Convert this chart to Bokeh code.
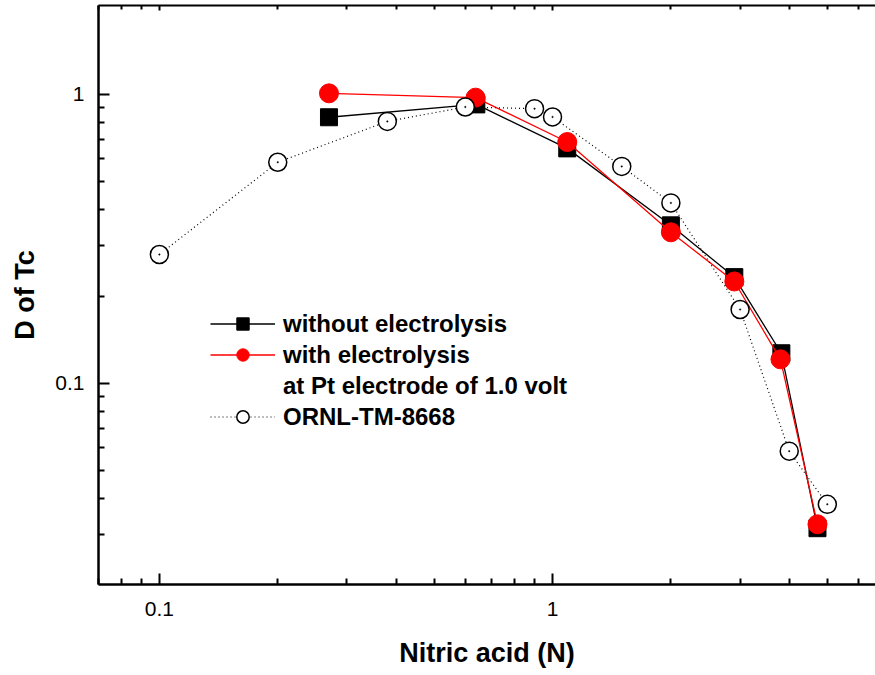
from bokeh.plotting import figure
from bokeh.models import (LogAxis, FixedTicker, NumeralTickFormatter, Legend,
                          LegendItem, Range1d)
from bokeh.embed import file_html
from bokeh.resources import INLINE

# ---- data ----
x_without = [0.27, 0.64, 1.09, 2.0, 2.9, 3.82, 4.72]
d_without = [0.833, 0.923, 0.65, 0.352, 0.233, 0.127, 0.0315]

x_with = [0.27, 0.637, 1.09, 2.0, 2.9, 3.8, 4.72]
d_with = [1.008, 0.974, 0.684, 0.333, 0.225, 0.121, 0.0325]

x_ornl = [0.1, 0.2, 0.38, 0.6, 0.9, 1.0, 1.5, 2.0, 3.0, 4.0, 5.0]
d_ornl = [0.279, 0.582, 0.806, 0.904, 0.892, 0.835, 0.563, 0.421, 0.180, 0.0582, 0.0381]

note_x = []
note_y = []

x_major = [0.1, 1]
x_minor = [0.07, 0.08, 0.09, 0.2, 0.3, 0.4, 0.5, 0.6, 0.7, 0.8, 0.9,
           2, 3, 4, 5, 6]
y_major = [0.1, 1]
y_minor = [0.02, 0.03, 0.04, 0.05, 0.06, 0.07, 0.08, 0.09,
           0.2, 0.3, 0.4, 0.5, 0.6, 0.7, 0.8, 0.9]

labels = ["without electrolysis", "with electrolysis",
          "at Pt electrode of 1.0 volt", "ORNL-TM-8668"]

FONT = "Liberation Sans"

p = figure(width=875, height=675, x_axis_type="log", y_axis_type="log",
           x_range=Range1d(0.0700, 6.63), y_range=Range1d(0.02011, 2.03),
           output_backend="svg", toolbar_location=None,
           min_border_left=98, min_border_right=0, min_border_top=5,
           min_border_bottom=91)
p.outline_line_color = None
p.grid.visible = False
p.background_fill_color = "white"

xt = FixedTicker(ticks=x_major, minor_ticks=x_minor)
yt = FixedTicker(ticks=y_major, minor_ticks=y_minor)

for ax, tk in ((p.xaxis[0], xt), (p.yaxis[0], yt)):
    ax.ticker = tk
    ax.formatter = NumeralTickFormatter(format="0.[00]")
    ax.axis_line_width = 2.5
    ax.axis_line_color = "black"
    ax.major_tick_in = 11
    ax.major_tick_out = 0
    ax.minor_tick_in = 6
    ax.minor_tick_out = 0
    ax.major_tick_line_width = 2
    ax.minor_tick_line_width = 2
    ax.major_tick_line_color = "black"
    ax.minor_tick_line_color = "black"
    ax.major_label_text_font = FONT
    ax.major_label_text_font_size = "21px"
    ax.major_label_text_color = "black"
    ax.axis_label_text_font = FONT
    ax.axis_label_text_font_style = "bold"
    ax.axis_label_text_font_size = "27px"
    ax.axis_label_text_color = "black"

p.xaxis[0].axis_label = "Nitric acid (N)"
p.xaxis[0].major_label_standoff = 17
p.xaxis[0].axis_label_standoff = 19
p.yaxis[0].axis_label = "D of Tc"
p.yaxis[0].major_label_standoff = 14
p.yaxis[0].axis_label_standoff = 12

top = LogAxis(ticker=FixedTicker(ticks=x_major, minor_ticks=x_minor),
              axis_line_width=2, major_tick_in=5, major_tick_out=0,
              minor_tick_in=4, minor_tick_out=0, major_tick_line_width=2,
              minor_tick_line_width=2, major_label_text_font_size="0px",
              major_label_standoff=0, axis_label=None)
top.major_label_text_alpha = 0
p.add_layout(top, "above")

# ---- series ----
l1 = p.line(x_without, d_without, line_color="black", line_width=1.3)
s1 = p.scatter(x_without, d_without, marker="square", size=17,
               fill_color="black", line_color="black")
l2 = p.line(x_with, d_with, line_color="red", line_width=1.3)
s2 = p.scatter(x_with, d_with, marker="circle", size=19,
               fill_color="red", line_color="red")
l3 = p.line(x_ornl, d_ornl, line_color="black", line_width=1.2,
            line_dash="1 3")
s3 = p.scatter(x_ornl, d_ornl, marker="circle", size=18,
               fill_color="white", line_color="black", line_width=1.5)
c3 = p.scatter(x_ornl, d_ornl, marker="circle", size=1.5,
               fill_color="black", line_color="black", line_width=0.5)
dummy = p.line(note_x, note_y, line_alpha=0)

legend = Legend(items=[
    LegendItem(label=labels[0], renderers=[l1, s1]),
    LegendItem(label=labels[1], renderers=[l2, s2]),
    LegendItem(label=labels[2], renderers=[dummy]),
    LegendItem(label=labels[3], renderers=[l3, s3]),
], location=(112, 152), padding=0, spacing=0, glyph_width=65,
    glyph_height=31, label_height=31, label_standoff=8,
    border_line_color=None, background_fill_alpha=0,
    label_text_font=FONT, label_text_font_style="bold",
    label_text_font_size="24px", label_text_color="black")
p.add_layout(legend)

open("out.html", "w").write(file_html(p, INLINE))
